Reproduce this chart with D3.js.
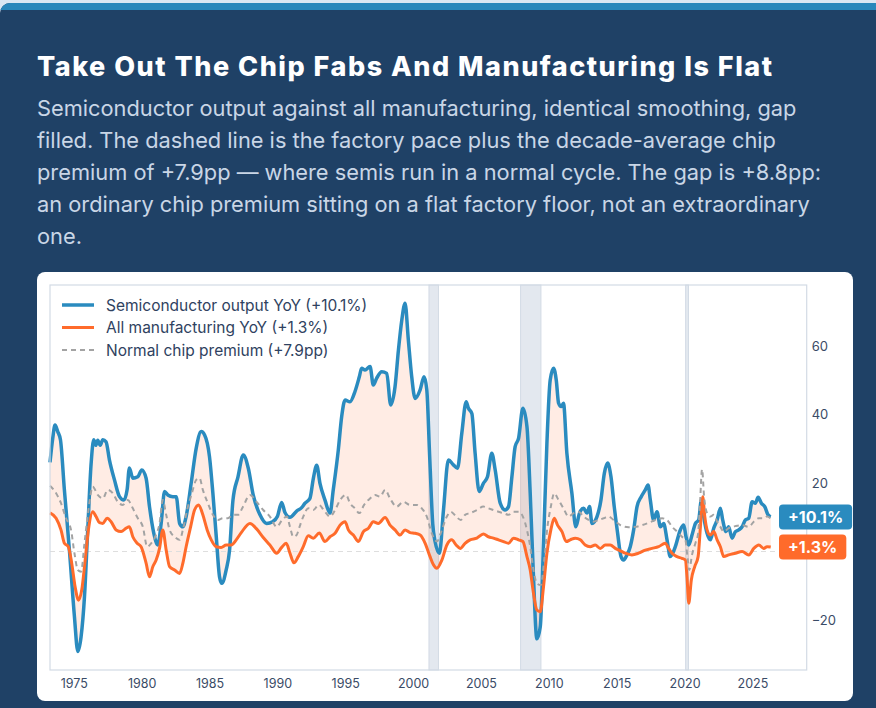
<!DOCTYPE html>
<html>
<head>
<meta charset="utf-8">
<script src="https://d3js.org/d3.v7.min.js"></script>
<style>
  html, body { margin: 0; padding: 0; background: #dbe7f3; }
  svg { display: block; font-family: Inter, "Noto Sans", sans-serif; }
</style>
</head>
<body>
<div id="chart"></div>
<script>
// semiconductor output YoY, [decimal year, %]
var semiPts = [
  [1973.25, 26], [1973.45, 33], [1973.62, 36.9], [1973.82, 35], [1974.02, 32.6], [1974.31, 18],
  [1974.68, 0.4], [1975.05, -19], [1975.30, -29.2], [1975.54, -24.9], [1975.79, -13.2], [1976.03, 6.3],
  [1976.28, 25.7], [1976.47, 32.6], [1976.62, 31], [1976.77, 32.5], [1976.95, 31], [1977.14, 32.6],
  [1977.38, 32], [1977.63, 26.7], [1978.00, 20.9], [1978.37, 16], [1978.69, 15], [1978.93, 18],
  [1979.10, 24.4], [1979.35, 21.4], [1979.72, 21.8], [1980.01, 23.8], [1980.33, 21.4], [1980.58, 13.1],
  [1980.90, 5.3], [1981.19, 1.9], [1981.44, 8.2], [1981.69, 17.5], [1981.93, 16.5], [1982.30, 16],
  [1982.55, 16], [1982.80, 8.2], [1983.04, 7.2], [1983.28, 10.2], [1983.65, 19.9], [1984.02, 30.1],
  [1984.39, 35], [1984.64, 34], [1985.00, 27.7], [1985.25, 17], [1985.50, 4.3], [1985.74, -7.4],
  [1985.91, -9.3], [1986.23, -5.4], [1986.48, 0.4], [1986.73, 15], [1987.10, 21.8], [1987.49, 28.2],
  [1987.86, 24.3], [1988.22, 16.5], [1988.72, 10.7], [1989.21, 8.2], [1989.65, 8.7], [1990.00, 10.2],
  [1990.32, 14.3], [1990.56, 11.4], [1990.93, 10], [1991.42, 11.8], [1991.79, 12.8], [1992.04, 14.1],
  [1992.40, 15.5], [1992.65, 21.3], [1992.90, 25.2], [1993.14, 19.9], [1993.51, 15], [1993.88, 11.2],
  [1994.12, 18], [1994.49, 29.6], [1994.74, 39.4], [1994.99, 44.2], [1995.35, 43.7], [1995.72, 46.7],
  [1996.04, 51], [1996.21, 53.5], [1996.46, 53], [1996.83, 54], [1997.07, 48.6], [1997.32, 50.6],
  [1997.69, 52.5], [1998.06, 52], [1998.35, 42.8], [1998.67, 48.1], [1998.92, 58.8], [1999.17, 67.6],
  [1999.41, 72.5], [1999.65, 61.8], [1999.90, 51], [2000.15, 44.7], [2000.52, 47.2], [2000.81, 51],
  [2001.01, 47.2], [2001.22, 28], [2001.45, 8], [2001.62, 2.9], [2001.94, -0.5], [2002.24, 12.1],
  [2002.60, 26.7], [2002.97, 25.3], [2003.27, 24.3], [2003.59, 34.5], [2003.91, 43.7], [2004.08, 41.8],
  [2004.33, 40.3], [2004.57, 28.7], [2004.87, 17.5], [2005.18, 19.9], [2005.48, 21.8], [2005.80, 28.7],
  [2006.05, 23.8], [2006.42, 14.1], [2006.78, 12.1], [2007.03, 13.1], [2007.28, 21.8], [2007.52, 30.6],
  [2007.77, 33], [2008.09, 41.8], [2008.39, 36.4], [2008.63, 17], [2008.87, -7.4], [2009.12, -25.5],
  [2009.37, -22], [2009.61, 2.4], [2009.86, 31.6], [2010.10, 50], [2010.35, 53.5], [2010.55, 50],
  [2010.72, 43.3], [2010.91, 42.3], [2011.08, 43.3], [2011.33, 28.7], [2011.70, 17], [2011.99, 7.2],
  [2012.26, 11.2], [2012.56, 12.6], [2012.81, 11.2], [2013.00, 13.1], [2013.18, 8.2], [2013.55, 10.2],
  [2013.84, 15], [2014.09, 22.8], [2014.33, 25.8], [2014.58, 21.8], [2014.82, 13.1], [2015.07, 5.3],
  [2015.32, -1.5], [2015.51, -2.5], [2015.76, -1], [2016.00, 1.4], [2016.25, 6.3], [2016.50, 13.1],
  [2016.81, 16], [2017.11, 18], [2017.31, 19.4], [2017.48, 15], [2017.72, 9.2], [2017.97, 11.6],
  [2018.22, 7.2], [2018.46, 8.2], [2018.71, 3.4], [2018.95, -1.5], [2019.32, 1.4], [2019.69, 6.3],
  [2019.94, 7.7], [2020.11, 4.3], [2020.31, 1.9], [2020.55, 4.8], [2020.80, 8.2], [2021.04, 9.2],
  [2021.24, 15], [2021.41, 10.2], [2021.66, 5.3], [2021.90, 3.4], [2022.15, 6.8], [2022.40, 9.2],
  [2022.64, 12.6], [2022.81, 9.2], [2023.06, 5.8], [2023.25, 7.2], [2023.50, 3.9], [2023.75, 5.8],
  [2023.99, 6.3], [2024.24, 7.2], [2024.48, 9.2], [2024.73, 9.7], [2024.98, 14.5], [2025.22, 14.1],
  [2025.42, 15.8], [2025.66, 14.1], [2025.91, 13.1], [2026.15, 10.7], [2026.35, 10.1]
];

// all manufacturing YoY
var mfgPts = [
  [1973.25, 11.3], [1973.70, 9.7], [1974.06, 6.3], [1974.31, 2.4], [1974.60, 1.4], [1974.85, -3.4],
  [1975.10, -10.3], [1975.35, -14.2], [1975.59, -11.2], [1975.84, -2.5], [1976.08, 6.3], [1976.40, 11.6],
  [1976.64, 10.2], [1976.90, 8.4], [1977.14, 8.2], [1977.46, 9.7], [1977.75, 8.7], [1978.12, 6.3],
  [1978.49, 5.8], [1978.86, 6.8], [1979.10, 7.2], [1979.35, 4.3], [1979.67, 2.4], [1979.96, 1.4],
  [1980.33, -3.4], [1980.58, -7.4], [1980.83, -4.4], [1981.07, -2.5], [1981.32, 0.9], [1981.56, 6.3],
  [1981.81, 0.4], [1982.06, -4.4], [1982.43, -5.4], [1982.80, -6.4], [1983.04, -3.4], [1983.28, 1.4],
  [1983.61, 7.2], [1983.90, 12.1], [1984.20, 13.6], [1984.51, 10.7], [1984.83, 6.3], [1985.13, 3.4],
  [1985.50, 1.4], [1985.86, 1.2], [1986.23, 1.9], [1986.60, 1.9], [1986.97, 3.4], [1987.34, 5.5],
  [1987.98, 8.2], [1988.47, 6.6], [1988.96, 4.1], [1989.45, 1.9], [1989.95, -0.5], [1990.32, 1.2],
  [1990.65, 2.4], [1990.93, -0.5], [1991.22, -3.3], [1991.54, -1.5], [1991.91, 1.4], [1992.28, 4.6],
  [1992.65, 3.9], [1993.09, 5.4], [1993.51, 2.9], [1993.88, 4.3], [1994.25, 5.3], [1994.62, 7.7],
  [1994.99, 8.7], [1995.23, 6.3], [1995.60, 4.8], [1995.97, 2.9], [1996.34, 5.8], [1996.71, 6.8],
  [1997.07, 8.7], [1997.44, 8.2], [1997.94, 9.9], [1998.30, 7.7], [1998.67, 6.3], [1999.04, 4.8],
  [1999.41, 6.3], [1999.78, 5.5], [2000.15, 5.3], [2000.52, 4.8], [2000.89, 2.4], [2001.25, -1.5],
  [2001.50, -3.9], [2001.75, -4.9], [2002.12, -2.5], [2002.49, 1.9], [2002.85, 3.4], [2003.17, 1.9],
  [2003.47, 0.9], [2003.83, 2.4], [2004.20, 3.4], [2004.70, 3.9], [2005.18, 5.1], [2005.55, 4.3],
  [2005.92, 3.9], [2006.29, 3.4], [2006.66, 2.9], [2007.03, 2.4], [2007.40, 3.9], [2007.77, 3.4],
  [2008.09, 2.9], [2008.39, -1.5], [2008.63, -5.4], [2008.87, -12.2], [2009.12, -17.1], [2009.37, -17.6],
  [2009.61, -10.3], [2009.86, -0.5], [2010.15, 6.3], [2010.40, 9.7], [2010.64, 7.7], [2010.97, 5.8],
  [2011.28, 2.9], [2011.58, 3.4], [2011.95, 3.9], [2012.32, 3.4], [2012.68, 1.9], [2013.05, 1.4],
  [2013.42, 1.9], [2013.79, 0.9], [2014.16, 1.9], [2014.53, 1.9], [2014.90, 0.9], [2015.27, 0.2],
  [2015.63, -0.5], [2016.12, -1], [2016.61, -0.5], [2017.11, 0.4], [2017.60, 0.9], [2018.09, 1.4],
  [2018.58, 2.4], [2018.83, 0.9], [2019.08, -0.5], [2019.45, -1.5], [2019.81, -2], [2020.06, -2.5],
  [2020.18, -7.4], [2020.31, -15.1], [2020.50, -8.3], [2020.75, -4.4], [2021.00, -1.5], [2021.17, 7.2],
  [2021.34, 16], [2021.49, 10.2], [2021.66, 6.3], [2021.90, 4.8], [2022.15, 5.8], [2022.40, 3.4],
  [2022.64, 1.4], [2022.89, -1.5], [2023.25, -1], [2023.75, -0.5], [2024.24, 0], [2024.73, -1],
  [2025.10, 0.9], [2025.47, 1.9], [2025.84, 0.9], [2026.08, 1.4], [2026.35, 1.3]
];

// factory pace + decade-average chip premium (dashed)
var normPts = [
  [1973.25, 19.2], [1973.70, 17], [1974.06, 14.1], [1974.43, 9.7], [1974.80, 6.3], [1975.05, -0.5],
  [1975.30, -5.4], [1975.54, -5.9], [1975.79, 2.4], [1976.08, 12.1], [1976.40, 18.9], [1976.77, 16.5],
  [1977.14, 15.5], [1977.51, 18], [1977.88, 17], [1978.24, 14.5], [1978.61, 13.6], [1978.98, 15],
  [1979.35, 12.6], [1979.72, 9.7], [1980.09, 7.2], [1980.41, 1.4], [1980.70, 2.4], [1981.00, 4.3],
  [1981.32, 8.2], [1981.56, 15], [1981.81, 10.7], [1982.06, 6.3], [1982.43, 4.3], [1982.80, 3.4],
  [1983.04, 6.3], [1983.35, 12.1], [1983.70, 17], [1984.02, 20.9], [1984.27, 21.4], [1984.51, 18],
  [1984.88, 14.1], [1985.25, 10.7], [1985.62, 9.2], [1985.99, 9.7], [1986.36, 9.7], [1986.73, 10.7],
  [1987.10, 10.7], [1987.46, 13], [1987.98, 16.5], [1988.47, 14.5], [1988.96, 12.1], [1989.45, 10.2],
  [1989.95, 7.2], [1990.32, 9], [1990.70, 10.2], [1990.93, 7.2], [1991.17, 4.3], [1991.42, 4.8],
  [1991.60, 6.8], [1991.91, 10.2], [1992.28, 12.6], [1992.65, 12.1], [1993.05, 13.6], [1993.51, 11.6],
  [1993.88, 10.2], [1994.25, 12.1], [1994.62, 15], [1995.06, 16.5], [1995.35, 14.1], [1995.72, 12.6],
  [1996.04, 11.2], [1996.39, 13.6], [1996.83, 15.5], [1997.20, 16.5], [1997.57, 16], [1997.94, 18],
  [1998.30, 15.5], [1998.79, 13.1], [1999.28, 14.5], [1999.78, 13.6], [2000.27, 13.6], [2000.64, 12.6],
  [2001.01, 10.2], [2001.38, 5.3], [2001.75, 2.9], [2002.12, 6.3], [2002.49, 10.2], [2002.78, 11.6],
  [2003.17, 10.2], [2003.52, 9.2], [2003.83, 10.7], [2004.20, 11.2], [2004.70, 12.1], [2005.18, 13.1],
  [2005.55, 12.6], [2005.92, 12.1], [2006.29, 11.6], [2006.66, 11.2], [2007.03, 10.7], [2007.40, 11.6],
  [2007.77, 11.6], [2008.09, 10.2], [2008.39, 6.3], [2008.63, 1.4], [2008.87, -5.4], [2009.12, -9.3],
  [2009.41, -9.8], [2009.66, -2.5], [2009.90, 7.2], [2010.15, 13.1], [2010.40, 17], [2010.72, 15],
  [2011.08, 12.6], [2011.45, 10.2], [2011.82, 11.2], [2012.19, 11.6], [2012.56, 10.2], [2012.93, 9.2],
  [2013.30, 8.7], [2013.67, 9.2], [2014.04, 9.7], [2014.40, 10.2], [2014.77, 9.2], [2015.27, 7.7],
  [2015.88, 7.1], [2016.37, 7.2], [2016.87, 7.7], [2017.36, 8.4], [2017.85, 9.2], [2018.34, 9.7],
  [2018.71, 9.2], [2019.08, 7.2], [2019.45, 5.8], [2019.81, 4.3], [2020.06, 3.4], [2020.20, -1],
  [2020.35, -5.4], [2020.55, -1], [2020.80, 2.4], [2021.00, 5.3], [2021.14, 14.1], [2021.29, 24],
  [2021.44, 16], [2021.66, 11.2], [2021.90, 10.2], [2022.15, 10.7], [2022.40, 8.7], [2022.64, 7.2],
  [2022.89, 5.8], [2023.25, 6.8], [2023.75, 7.4], [2024.24, 7.7], [2024.73, 7.2], [2025.10, 8.7],
  [2025.47, 9.7], [2025.84, 9.7], [2026.08, 10.2], [2026.35, 9.6]
];

// recession bands
var recessions = [[2001.17, 2001.87], [2007.92, 2009.42], [2020.08, 2020.29]];

var xTicks = [1975, 1980, 1985, 1990, 1995, 2000, 2005, 2010, 2015, 2020, 2025];
var yTicks = [-20, 20, 40, 60];

var legendItems = [
  { label: "Semiconductor output YoY (+10.1%)", color: "#2a8bbf", dash: null, w: 3.5 },
  { label: "All manufacturing YoY (+1.3%)", color: "#ff6b2b", dash: null, w: 3 },
  { label: "Normal chip premium (+7.9pp)", color: "#a3a3a3", dash: "5,4", w: 2 }
];

var badges = [
  { text: "+10.1%", value: 10.1, color: "#2a8bbf" },
  { text: "+1.3%", value: 1.3, color: "#ff6b2b" }
];

var title = "Take Out The Chip Fabs And Manufacturing Is Flat";
var subtitle = [
  "Semiconductor output against all manufacturing, identical smoothing, gap",
  "filled. The dashed line is the factory pace plus the decade-average chip",
  "premium of +7.9pp \u2014 where semis run in a normal cycle. The gap is +8.8pp:",
  "an ordinary chip premium sitting on a flat factory floor, not an extraordinary",
  "one."
];

var W = 876, H = 708;

var svg = d3.select("#chart").append("svg")
  .attr("width", W)
  .attr("height", H);

// panel with blue top edge
svg.append("clipPath").attr("id", "panelClip")
  .append("rect").attr("x", 0).attr("y", 3).attr("width", 920).attr("height", 800).attr("rx", 10);

var panel = svg.append("g").attr("clip-path", "url(#panelClip)");
panel.append("rect").attr("x", 0).attr("y", 3).attr("width", 920).attr("height", 800).attr("fill", "#1f4166");
panel.append("rect").attr("x", 0).attr("y", 3).attr("width", 920).attr("height", 7).attr("fill", "#2a87bb");

svg.append("text")
  .attr("x", 37).attr("y", 76)
  .attr("fill", "#ffffff")
  .attr("textLength", 735)
  .attr("lengthAdjust", "spacing")
  .style("font-size", "27px")
  .style("font-weight", 800)
  .text(title);

svg.append("g").selectAll("text")
  .data(subtitle)
  .enter()
  .append("text")
  .attr("x", 37)
  .attr("y", function(d, i) { return 115.5 + i * 32 })
  .attr("fill", "#c9d6e6")
  .style("font-size", "21.8px")
  .text(function(d) { return d });

// white card
svg.append("rect")
  .attr("x", 37).attr("y", 272)
  .attr("width", 816).attr("height", 429)
  .attr("rx", 8)
  .attr("fill", "#ffffff");

var plot = { left: 50, right: 806.7, top: 285, bottom: 670 };

var x = d3.scaleLinear()
  .domain([1973.25, 2029.0])
  .range([plot.left, plot.right]);

var y = d3.scaleLinear()
  .domain([-34.6, 77.8])
  .range([plot.bottom, plot.top]);

var g = svg.append("g");

// recession shading
g.selectAll("rect.rec")
  .data(recessions)
  .enter()
  .append("rect")
  .attr("class", "rec")
  .attr("x", function(d) { return x(d[0]) })
  .attr("width", function(d) { return x(d[1]) - x(d[0]) })
  .attr("y", plot.top)
  .attr("height", plot.bottom - plot.top)
  .attr("fill", "#e3e8ef")
  .attr("stroke", "#d3dbe5")
  .attr("stroke-width", 1);

var line = d3.line()
  .x(function(d) { return x(d[0]) })
  .y(function(d) { return y(d[1]) })
  .curve(d3.curveMonotoneX);

// gap fill: semis forward, manufacturing back
var fwd = line(semiPts);
var back = line(mfgPts.slice().reverse());
g.append("path")
  .attr("d", fwd + "L" + back.slice(1) + "Z")
  .attr("fill", "#ff6b2b")
  .attr("fill-opacity", 0.13)
  .attr("stroke", "none");

// zero line
g.append("line")
  .attr("x1", plot.left).attr("x2", plot.right)
  .attr("y1", y(0)).attr("y2", y(0))
  .attr("stroke", "#dedede")
  .attr("stroke-width", 1)
  .attr("stroke-dasharray", "5,4");

g.append("path")
  .attr("d", line(semiPts))
  .attr("fill", "none")
  .attr("stroke", "#2a8bbf")
  .attr("stroke-width", 3.5)
  .attr("stroke-linejoin", "round");

g.append("path")
  .attr("d", line(mfgPts))
  .attr("fill", "none")
  .attr("stroke", "#ff6b2b")
  .attr("stroke-width", 3)
  .attr("stroke-linejoin", "round");

g.append("path")
  .attr("d", line(normPts))
  .attr("fill", "none")
  .attr("stroke", "#a3a3a3")
  .attr("stroke-width", 2)
  .attr("stroke-dasharray", "5,4");

// frame
svg.append("rect")
  .attr("x", plot.left).attr("y", plot.top)
  .attr("width", plot.right - plot.left)
  .attr("height", plot.bottom - plot.top)
  .attr("fill", "none")
  .attr("stroke", "#d3dbe5")
  .attr("stroke-width", 1.2);

// axes
var xAxis = svg.append("g")
  .attr("transform", "translate(0," + plot.bottom + ")")
  .call(d3.axisBottom(x).tickValues(xTicks).tickFormat(d3.format("d")).tickSize(0).tickPadding(9));
xAxis.select(".domain").remove();
xAxis.selectAll("text")
  .attr("fill", "#3a4b66")
  .style("font-size", "12.5px")
  .style("font-family", "Inter, sans-serif");

var yAxis = svg.append("g")
  .attr("transform", "translate(" + plot.right + ",0)")
  .call(d3.axisRight(y).tickValues(yTicks).tickFormat(d3.format("d")).tickSize(0).tickPadding(5));
yAxis.select(".domain").remove();
yAxis.selectAll("text")
  .attr("fill", "#3a4b66")
  .style("font-size", "13px")
  .style("font-family", "Inter, sans-serif");

// legend
var legend = svg.append("g").attr("transform", "translate(62,305)");
var li = legend.selectAll("g")
  .data(legendItems)
  .enter()
  .append("g")
  .attr("transform", function(d, i) { return "translate(0," + (i * 22.5) + ")" });
li.append("line")
  .attr("x1", 0).attr("x2", 32)
  .attr("stroke", function(d) { return d.color })
  .attr("stroke-width", function(d) { return d.w })
  .attr("stroke-dasharray", function(d) { return d.dash });
li.append("text")
  .attr("x", 44).attr("y", 5.5)
  .attr("fill", "#2f4260")
  .style("font-size", "15.5px")
  .text(function(d) { return d.label });

// end-value badges
var bg = svg.append("g").selectAll("g")
  .data(badges)
  .enter()
  .append("g")
  .attr("transform", function(d) { return "translate(779," + y(d.value) + ")" });
bg.append("text")
  .attr("x", 9).attr("y", 6)
  .attr("fill", "#ffffff")
  .style("font-size", "16px")
  .style("font-weight", 700)
  .text(function(d) { return d.text });
bg.each(function() {
  var gEl = d3.select(this);
  var t = gEl.select("text").node();
  var w = t.getComputedTextLength() + 18;
  gEl.insert("rect", "text")
    .attr("x", 0).attr("y", -12.5)
    .attr("width", w).attr("height", 25)
    .attr("rx", 4)
    .attr("fill", gEl.datum().color);
});
</script>
</body>
</html>
